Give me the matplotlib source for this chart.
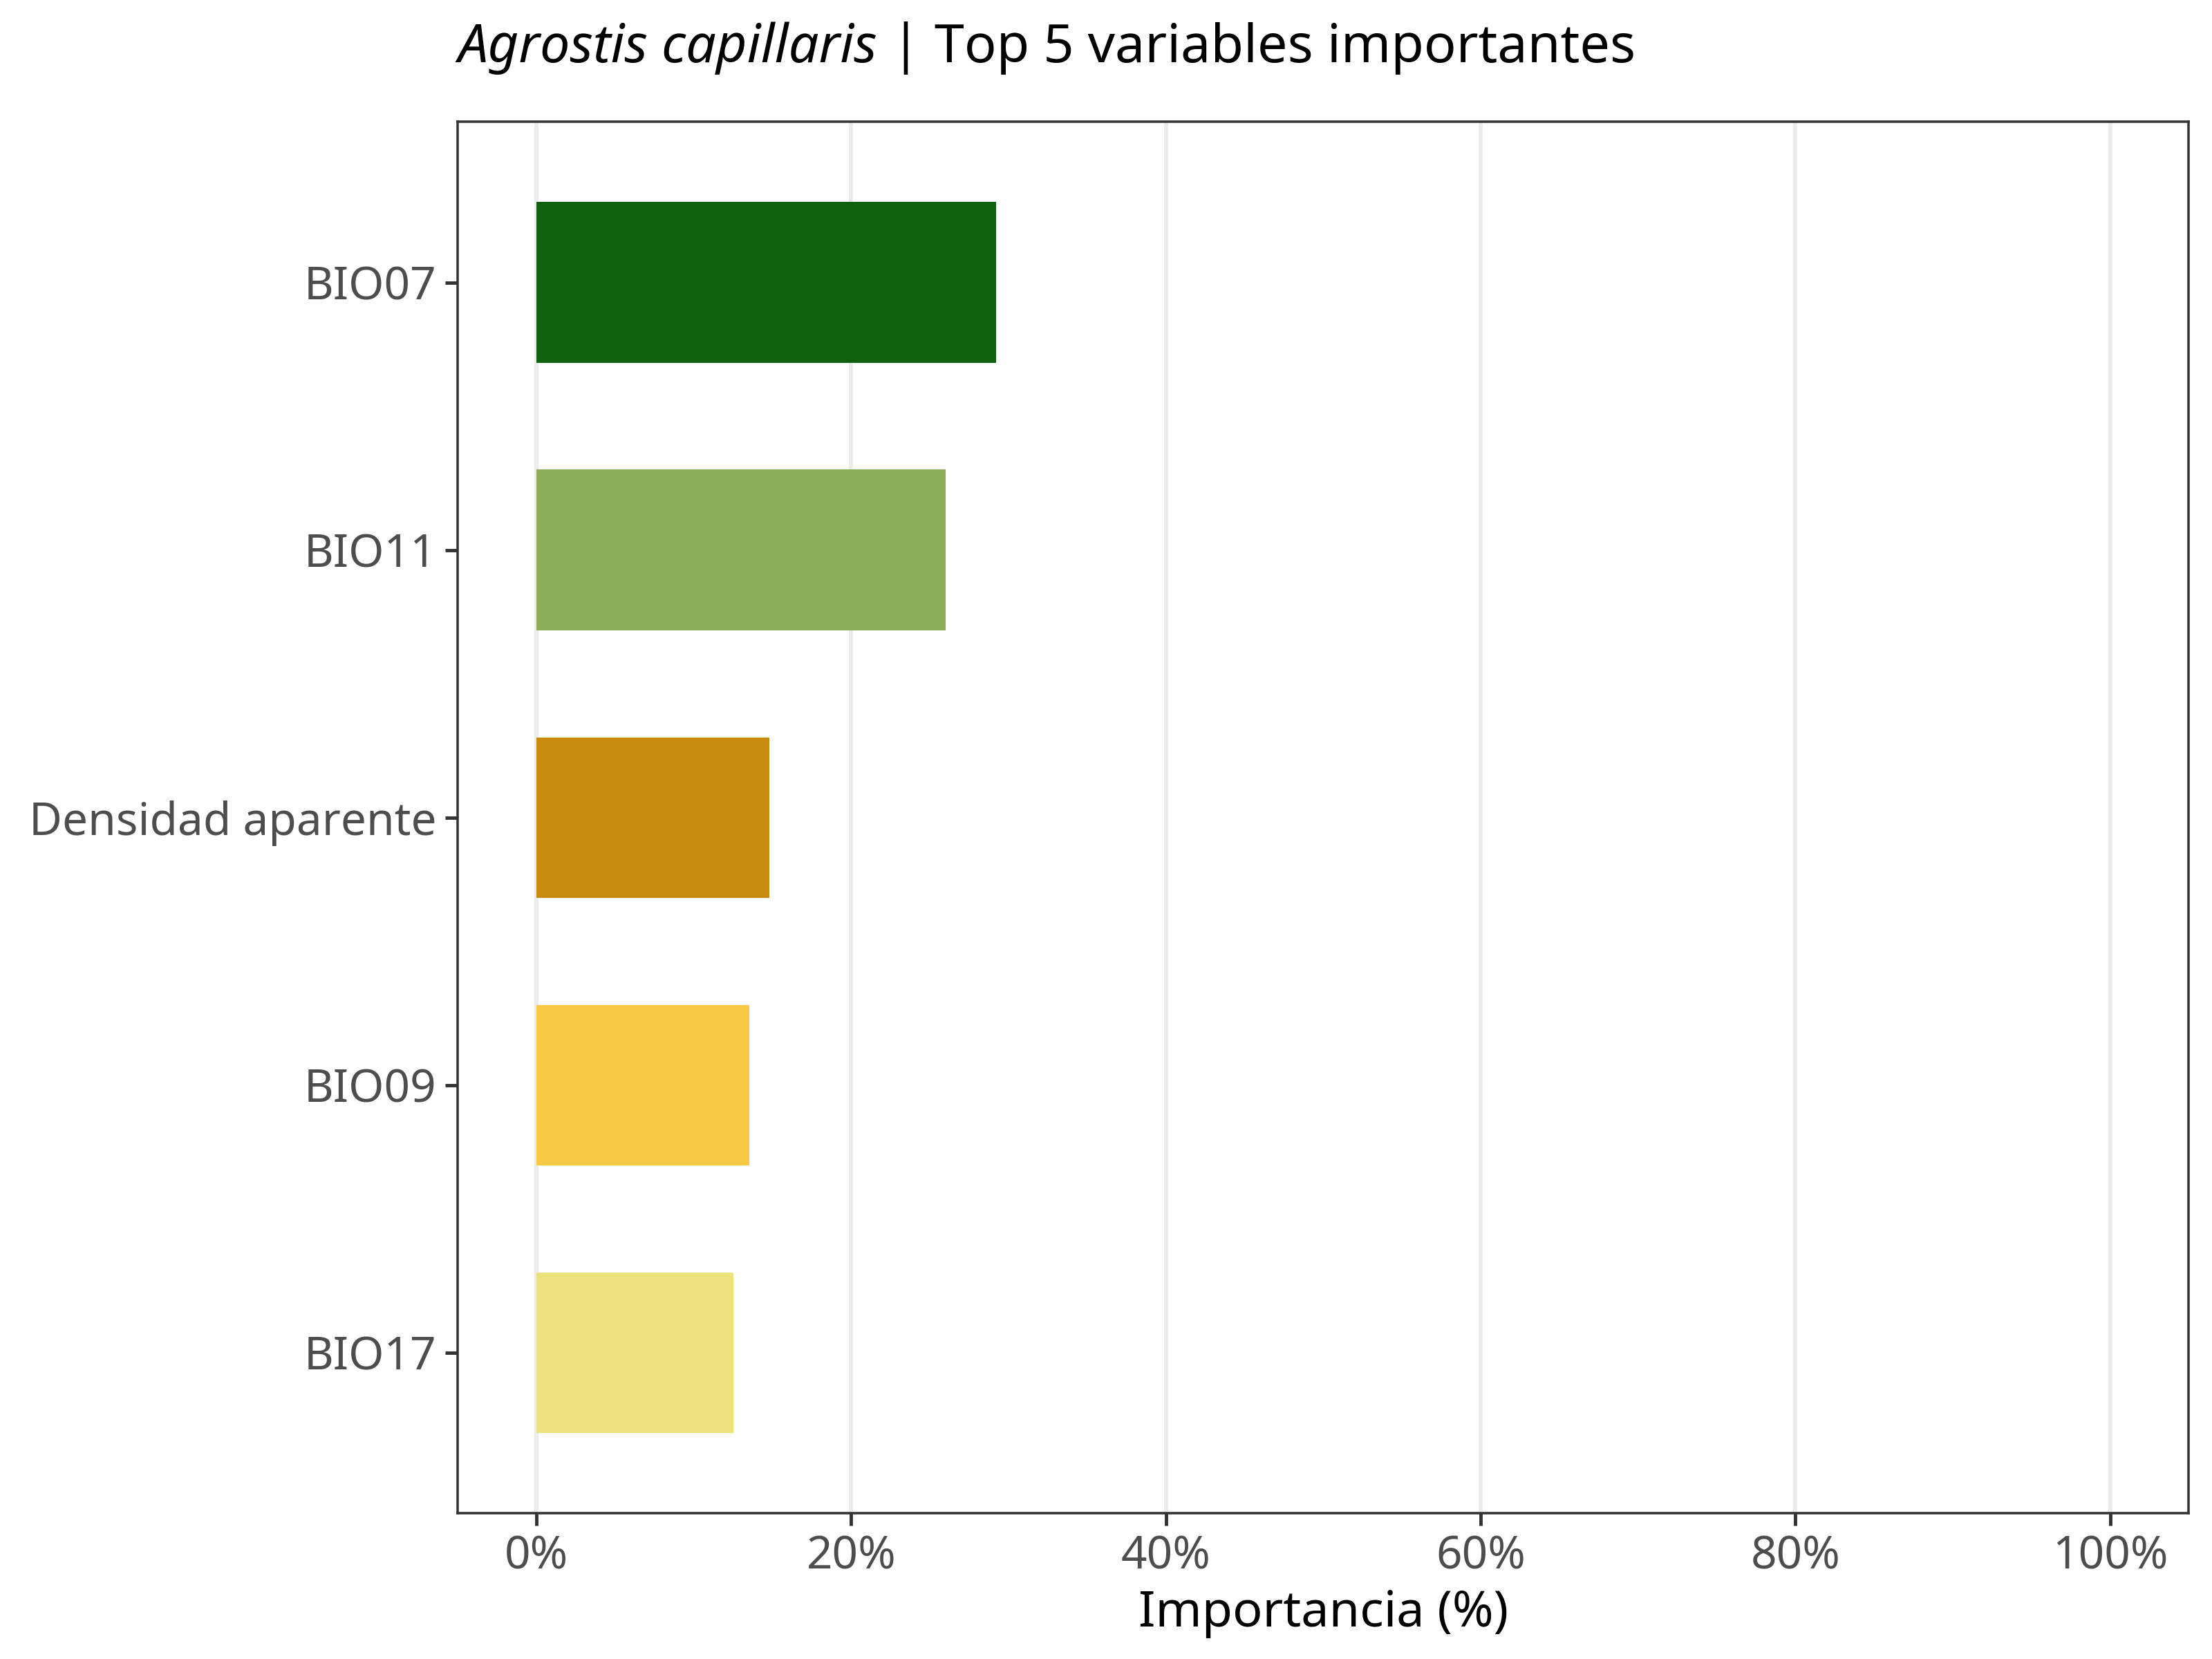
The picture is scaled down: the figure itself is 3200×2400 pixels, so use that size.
import matplotlib
matplotlib.use("Agg")
import matplotlib.pyplot as plt

plt.rcParams['font.family'] = ['Noto Sans', 'DejaVu Sans']

# data (top to bottom)
variables = ['BIO07', 'BIO11', 'Densidad aparente', 'BIO09', 'BIO17']
importance = [29.2, 26.0, 14.8, 13.5, 12.5]
bar_colors = ['#11600f', '#8aad55', '#c98b0f', '#f6ca42', '#eee27d']
x_ticks = [0, 20, 40, 60, 80, 100]
x_tick_labels = ['0%', '20%', '40%', '60%', '80%', '100%']

fig = plt.figure(figsize=(10, 7.5), dpi=320)
ax = fig.add_axes([0.207, 0.088, 0.7825, 0.8385])

ypos = list(range(len(variables), 0, -1))
ax.barh(ypos, importance, height=0.6, color=bar_colors, zorder=2)

ax.set_xlim(-5, 105)
ax.set_ylim(0.4, len(variables) + 0.6)
ax.set_xticks(x_ticks)
ax.set_xticklabels(x_tick_labels)
ax.set_yticks(ypos)
ax.set_yticklabels(variables)

ax.grid(axis='x', color='#ebebeb', linewidth=1.3, zorder=0)
ax.set_axisbelow(True)
for s in ax.spines.values():
    s.set_color('#333333')
    s.set_linewidth(0.8)
ax.tick_params(axis='both', colors='#333333', labelcolor='#4d4d4d',
               labelsize=14.8, length=4, width=1.1)
ax.tick_params(axis='x', pad=3)
ax.tick_params(axis='y', pad=3)

ax.set_xlabel('Importancia (%)', fontsize=16.2, color='black', labelpad=3)

# title: italic species name + normal text
fig.canvas.draw()
r = fig.canvas.get_renderer()
t1 = fig.text(0.207, 0.971, 'Agrostis capillaris', fontsize=17.4, style='italic',
              ha='left', va='center')
bb = t1.get_window_extent(renderer=r)
x2 = fig.transFigure.inverted().transform((bb.x1, bb.y0))[0]
fig.text(x2, 0.971, ' | Top 5 variables importantes', fontsize=17.4,
         ha='left', va='center')

fig.savefig('out.png', dpi=320)
